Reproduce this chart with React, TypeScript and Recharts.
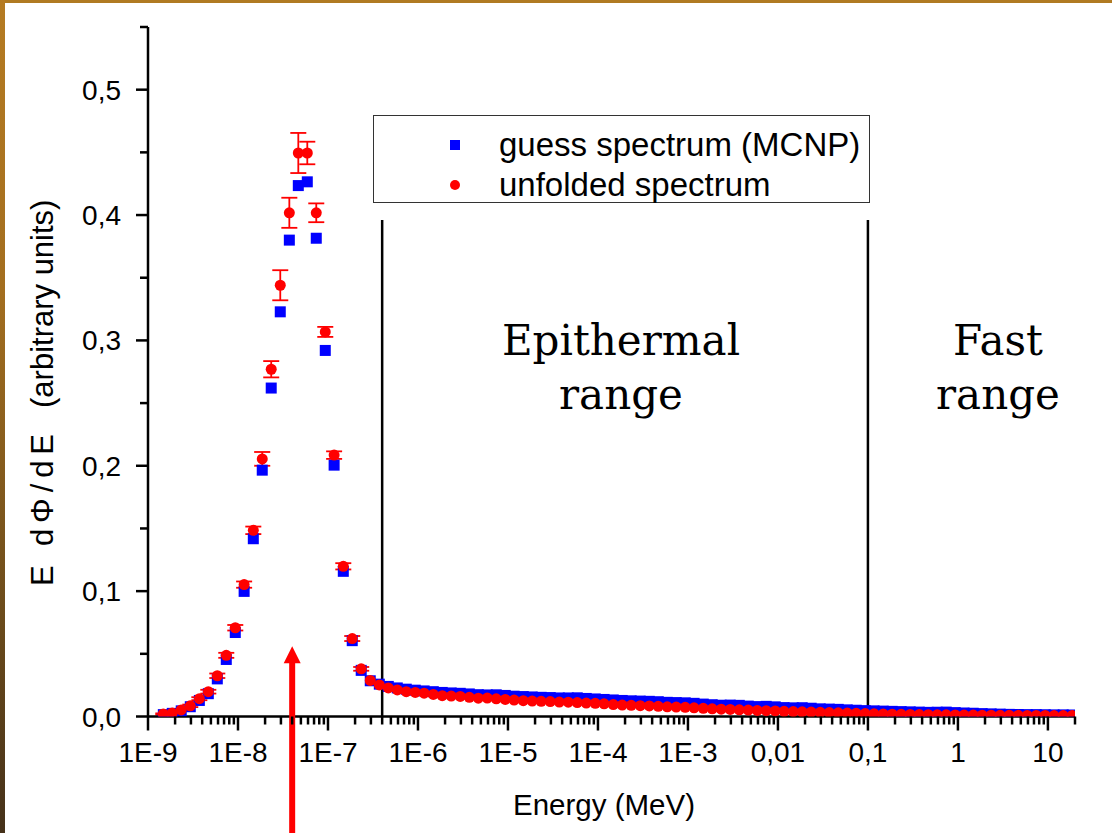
import {
  ScatterChart,
  Scatter,
  XAxis,
  YAxis,
  ErrorBar,
  ReferenceLine,
  ReferenceDot,
  Legend,
} from 'recharts';

// Energy grid of the spectrum bins (MeV)
const energy = [
  1.48e-9, 1.86e-9, 2.34e-9, 2.95e-9, 3.72e-9, 4.68e-9, 5.89e-9, 7.41e-9, 9.33e-9,
  1.17e-8, 1.48e-8, 1.86e-8, 2.34e-8, 2.95e-8, 3.72e-8, 4.68e-8, 5.89e-8, 7.41e-8, 9.33e-8,
  1.17e-7, 1.48e-7, 1.86e-7, 2.34e-7, 2.95e-7, 3.72e-7, 4.68e-7, 5.89e-7, 7.41e-7, 9.33e-7,
  1.17e-6, 1.48e-6, 1.86e-6, 2.34e-6, 2.95e-6, 3.72e-6, 4.68e-6, 5.89e-6, 7.41e-6, 9.33e-6,
  1.17e-5, 1.48e-5, 1.86e-5, 2.34e-5, 2.95e-5, 3.72e-5, 4.68e-5, 5.89e-5, 7.41e-5, 9.33e-5,
  1.17e-4, 1.48e-4, 1.86e-4, 2.34e-4, 2.95e-4, 3.72e-4, 4.68e-4, 5.89e-4, 7.41e-4, 9.33e-4,
  1.17e-3, 1.48e-3, 1.86e-3, 2.34e-3, 2.95e-3, 3.72e-3, 4.68e-3, 5.89e-3, 7.41e-3, 9.33e-3,
  1.17e-2, 1.48e-2, 1.86e-2, 2.34e-2, 2.95e-2, 3.72e-2, 4.68e-2, 5.89e-2, 7.41e-2, 9.33e-2,
  0.117, 0.148, 0.186, 0.234, 0.295, 0.372, 0.468, 0.589, 0.741, 0.933,
  1.17, 1.48, 1.86, 2.34, 2.95, 3.72, 4.68, 5.89, 7.41, 9.33,
  11.7, 14.8, 18.6,
];

// guess spectrum (MCNP)
const guessSpectrum = [
  0.0015, 0.0025, 0.0045, 0.0078, 0.0128, 0.0182, 0.03, 0.0455, 0.067, 0.0998,
  0.1418, 0.1965, 0.262, 0.3228, 0.38, 0.4235, 0.4265, 0.3815, 0.292, 0.2005,
  0.1158, 0.0605, 0.0368, 0.0285, 0.0258, 0.024, 0.0228, 0.0218, 0.021,
  0.0204, 0.0198, 0.0192, 0.0188, 0.0185, 0.018, 0.0174, 0.0172, 0.0173, 0.0168,
  0.0162, 0.0159, 0.0156, 0.0153, 0.0151, 0.0148, 0.0148, 0.0149, 0.0144, 0.014,
  0.0136, 0.0132, 0.0128, 0.0125, 0.0123, 0.0121, 0.0118, 0.0113, 0.0111, 0.0109,
  0.0105, 0.0099, 0.0094, 0.009, 0.0091, 0.0089, 0.0083, 0.0079, 0.0081, 0.0077,
  0.0071, 0.0069, 0.007, 0.0066, 0.0061, 0.0059, 0.0057, 0.0053, 0.005, 0.0047,
  0.0045, 0.0043, 0.0041, 0.0039, 0.0037, 0.0035, 0.0033, 0.0034, 0.0035, 0.0031,
  0.0028, 0.0026, 0.0023, 0.0021, 0.0019, 0.0017, 0.0016, 0.0015, 0.0015, 0.0014,
  0.0013, 0.0013, 0.0012,
];

// unfolded spectrum
const unfoldedSpectrum = [
  0.002, 0.0027, 0.0052, 0.0085, 0.0142, 0.0198, 0.0325, 0.0488, 0.0708, 0.1052,
  0.1485, 0.2055, 0.277, 0.344, 0.4018, 0.4495, 0.4495, 0.4018, 0.3068, 0.2085,
  0.1198, 0.0622, 0.038, 0.0288, 0.0252, 0.0228, 0.0212, 0.0198, 0.0192,
  0.0186, 0.0176, 0.0166, 0.0163, 0.016, 0.0153, 0.0146, 0.0147, 0.0141, 0.0136,
  0.0131, 0.0126, 0.0123, 0.0121, 0.0119, 0.0115, 0.0114, 0.0111, 0.0107, 0.0105,
  0.0101, 0.0095, 0.0091, 0.0089, 0.0086, 0.0084, 0.0081, 0.0077, 0.0075, 0.0073,
  0.0069, 0.0065, 0.0061, 0.0058, 0.0056, 0.0053, 0.0051, 0.0048, 0.0046, 0.0044,
  0.0041, 0.0039, 0.0037, 0.0035, 0.0033, 0.0031, 0.0029, 0.0027, 0.0025, 0.0023,
  0.0021, 0.0019, 0.0018, 0.0017, 0.0016, 0.0015, 0.0014, 0.0013, 0.0013, 0.0012,
  0.0011, 0.0011, 0.001, 0.001, 0.0009, 0.0009, 0.0009, 0.0008, 0.0008, 0.0008,
  0.0007, 0.0007, 0.0007,
];

// error of the unfolded spectrum (only visible around the thermal peak)
const unfoldedError = [
  0.0005, 0.0005, 0.0008, 0.001, 0.0012, 0.0015, 0.0018, 0.002, 0.0022, 0.0025,
  0.003, 0.0055, 0.0065, 0.012, 0.012, 0.016, 0.009, 0.0075, 0.004, 0.003,
  0.0025, 0.002, 0.0015,
];

const xMajorTicks = [1e-9, 1e-8, 1e-7, 1e-6, 1e-5, 1e-4, 1e-3, 1e-2, 0.1, 1, 10];
const xMajorLabels = ['1E-9', '1E-8', '1E-7', '1E-6', '1E-5', '1E-4', '1E-3', '0,01', '0,1', '1', '10'];
const xMinorMantissas = [2, 3, 4, 5, 6, 7, 8, 9];

const yMajorTicks = [0, 0.1, 0.2, 0.3, 0.4, 0.5];
const yMajorLabels = ['0,0', '0,1', '0,2', '0,3', '0,4', '0,5'];
const yMinorTicks = [0.05, 0.15, 0.25, 0.35, 0.45, 0.55];

const rangeLimits = [4e-7, 0.1];
const thermalPeakEnergy = 4e-8;

const FONT = "'Liberation Sans', Arial, sans-serif";
const BLUE = '#0000ff';
const RED = '#ff0000';

const xMinorTicks = xMajorTicks.flatMap((d) => xMinorMantissas.map((m) => m * d)).filter((v) => v <= 20);
const xTicks = [...xMajorTicks, ...xMinorTicks].sort((a, b) => a - b);
const yTicks = [...yMajorTicks, ...yMinorTicks].sort((a, b) => a - b);

const guessData = energy.map((e, i) => ({ e, v: guessSpectrum[i] }));
const unfoldedData = energy.map((e, i) => ({ e, v: unfoldedSpectrum[i], err: unfoldedError[i] ?? 0 }));

const XTick = ({ x, y, payload }: any) => {
  const i = xMajorTicks.indexOf(payload.value);
  const major = i >= 0;
  return (
    <g>
      <line x1={x} x2={x} y1={y} y2={y + (major ? 14 : 8)} stroke="#000" strokeWidth={2.5} />
      {major && (
        <text x={x} y={y + 45} textAnchor="middle" fontSize={28} fontFamily={FONT} fill="#000">
          {xMajorLabels[i]}
        </text>
      )}
    </g>
  );
};

const YTick = ({ x, y, payload }: any) => {
  const i = yMajorTicks.indexOf(payload.value);
  const major = i >= 0;
  return (
    <g>
      <line x1={x - (major ? 12 : 8)} x2={x} y1={y} y2={y} stroke="#000" strokeWidth={2.5} />
      {major && (
        <text x={x - 27} y={y} dy="0.36em" textAnchor="end" fontSize={28} fontFamily={FONT} fill="#000">
          {yMajorLabels[i]}
        </text>
      )}
    </g>
  );
};

const Square = ({ cx, cy }: any) => <rect x={cx - 5.5} y={cy - 5.5} width={11} height={11} fill={BLUE} />;
const Dot = ({ cx, cy }: any) => <circle cx={cx} cy={cy} r={5.5} fill={RED} />;

// red arrow marking the thermal peak
const Arrow = ({ cx, cy }: any) => (
  <g>
    <polygon points={`${cx},${cy} ${cx - 8.5},${cy + 17} ${cx + 8.5},${cy + 17}`} fill={RED} />
    <rect x={cx - 3} y={cy + 16} width={6} height={220} fill={RED} />
  </g>
);

const LegendBox = ({ payload }: any) => (
  <div
    style={{
      width: 497,
      height: 88,
      border: '1.5px solid #333',
      boxSizing: 'border-box',
      background: '#fff',
      position: 'relative',
      fontFamily: FONT,
      fontSize: 33,
      color: '#000',
    }}
  >
    {(payload || []).map((entry: any, i: number) => (
      <div
        key={entry.value}
        style={{ position: 'absolute', left: 0, top: 9 + i * 40, height: 40, display: 'flex', alignItems: 'center' }}
      >
        <svg width={20} height={20} style={{ marginLeft: 71, marginRight: 34 }}>
          {entry.type === 'square' ? (
            <rect x={5} y={5} width={10} height={10} fill={entry.color} />
          ) : (
            <circle cx={10} cy={10} r={5} fill={entry.color} />
          )}
        </svg>
        <span style={{ lineHeight: '40px', whiteSpace: 'nowrap' }}>{entry.value}</span>
      </div>
    ))}
  </div>
);

export default function App() {
  return (
    <div style={{ position: 'absolute', left: 0, top: 0, width: 1112, height: 833, background: '#fff', overflow: 'hidden' }}>
      <ScatterChart width={1112} height={833} margin={{ top: 27, right: 37, left: 0, bottom: 0 }}>
        <XAxis
          type="number"
          dataKey="e"
          scale="log"
          domain={[1e-9, 20]}
          allowDataOverflow
          ticks={xTicks}
          interval={0}
          tickSize={0}
          tickMargin={0}
          tickLine={false}
          tick={(p: any) => <XTick {...p} />}
          axisLine={{ stroke: '#000', strokeWidth: 2.5 }}
          height={116.5}
        />
        <YAxis
          type="number"
          dataKey="v"
          domain={[0, 0.55]}
          allowDataOverflow
          ticks={yTicks}
          interval={0}
          tickSize={0}
          tickMargin={0}
          tickLine={false}
          tick={(p: any) => <YTick {...p} />}
          axisLine={{ stroke: '#000', strokeWidth: 2.5 }}
          width={148}
        />
        <Legend
          layout="horizontal"
          verticalAlign="middle"
          align="center"
          content={(p: any) => <LegendBox {...p} />}
          wrapperStyle={{ left: 373, top: 115, width: 497, height: 88 }}
        />
        <Scatter
          name="guess spectrum (MCNP)"
          data={guessData}
          fill={BLUE}
          legendType="square"
          shape={(p: any) => <Square {...p} />}
          isAnimationActive={false}
        />
        <Scatter
          name="unfolded spectrum"
          data={unfoldedData}
          fill={RED}
          legendType="circle"
          shape={(p: any) => <Dot {...p} />}
          isAnimationActive={false}
        >
          <ErrorBar dataKey="err" direction="y" width={8} stroke={RED} strokeWidth={1.8} isAnimationActive={false} />
        </Scatter>
        {rangeLimits.map((e) => (
          <ReferenceLine
            key={e}
            segment={[{ x: e, y: 0 }, { x: e, y: 0.396 }]}
            stroke="#000"
            strokeWidth={2.5}
            ifOverflow="visible"
          />
        ))}
        <ReferenceDot x={thermalPeakEnergy} y={0.056} ifOverflow="visible" shape={(p: any) => <Arrow {...p} />} />
      </ScatterChart>

      <svg width={1112} height={833} style={{ position: 'absolute', left: 0, top: 0, pointerEvents: 'none' }}>
        <g fontFamily="'DejaVu Serif', serif" fontSize={42} fill="#000" textAnchor="middle">
          <text x={621} y={355}>Epithermal</text>
          <text x={621} y={409}>range</text>
          <text x={998} y={355}>Fast</text>
          <text x={998} y={409}>range</text>
        </g>
        <text transform="translate(53, 586) rotate(-90)" fontFamily={FONT} fontSize={31} fill="#000">
          <tspan x={0}>E</tspan>
          <tspan x={40} textLength={112} lengthAdjust="spacing">dΦ/dE</tspan>
          <tspan x={178}>(arbitrary units)</tspan>
        </text>
        <text x={604} y={815} textAnchor="middle" fontFamily={FONT} fontSize={29.5} fill="#000">
          Energy (MeV)
        </text>
      </svg>

      <div style={{ position: 'absolute', left: 0, top: 0, width: 1112, height: 3, background: '#b07a22' }} />
      <div
        style={{
          position: 'absolute',
          left: 0,
          top: 0,
          width: 5,
          height: 833,
          background: 'linear-gradient(to bottom, #b57b22 0%, #a36e1f 35%, #6a4a1b 75%, #45311a 100%)',
        }}
      />
    </div>
  );
}
